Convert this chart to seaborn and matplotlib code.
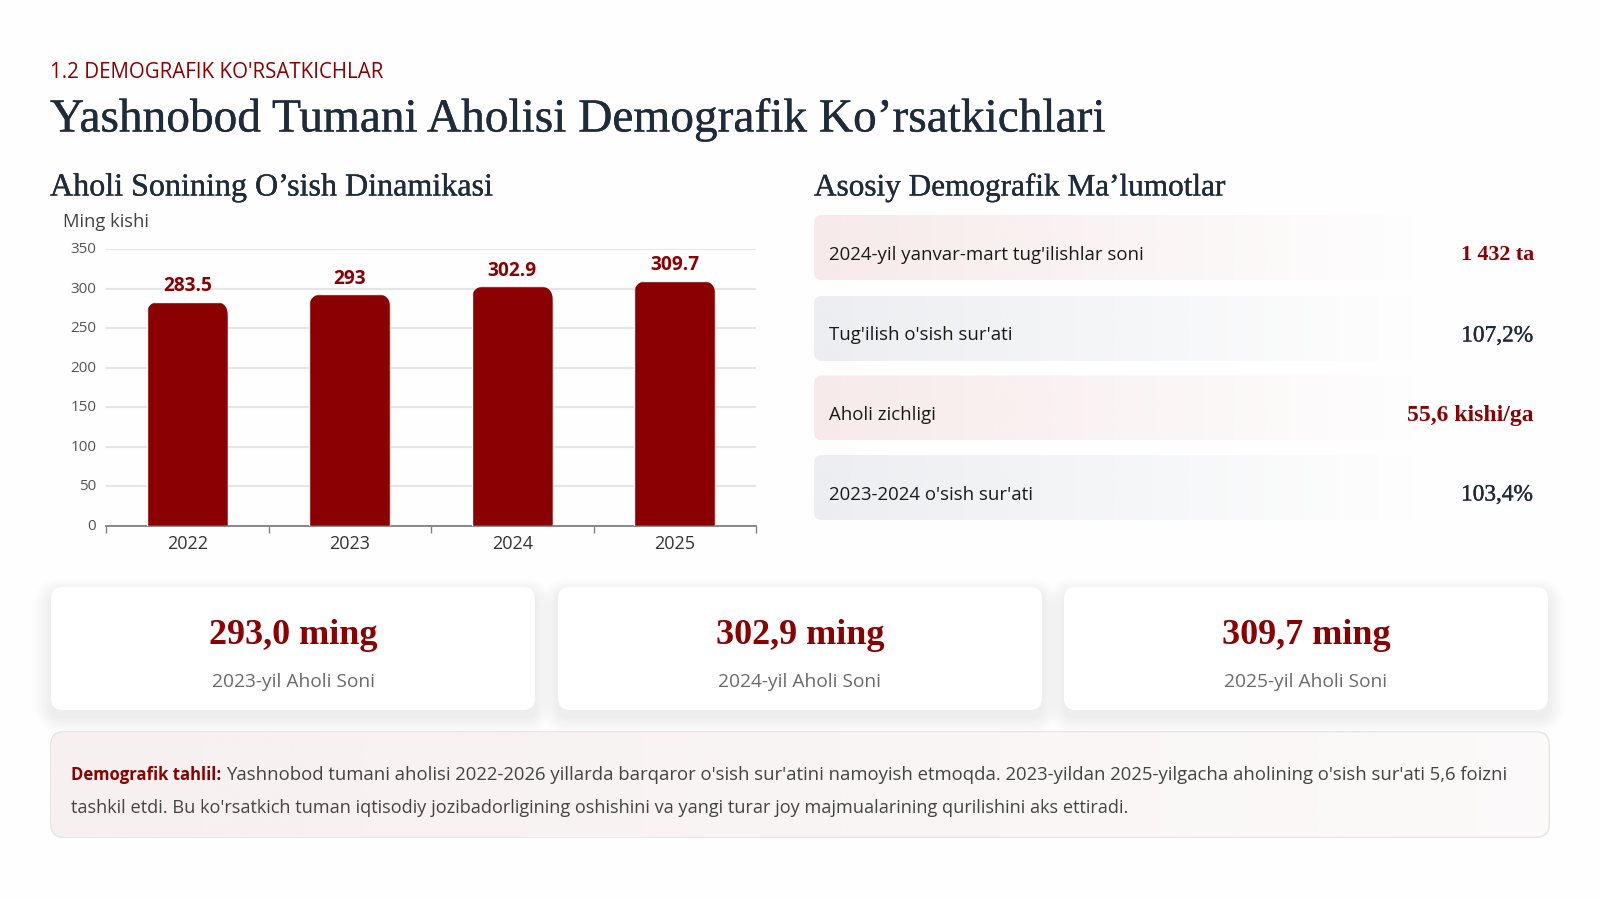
import numpy as np
import pandas as pd
import matplotlib
matplotlib.use("Agg")
import matplotlib.pyplot as plt
import matplotlib.patheffects as pe
from matplotlib.colors import to_rgb
from matplotlib.patches import FancyBboxPatch
from matplotlib.transforms import IdentityTransform, ScaledTranslation
import seaborn as sns

# дані графіка
years = ["2022", "2023", "2024", "2025"]
population = [283.5, 293, 302.9, 309.7]
y_ticks = [0, 50, 100, 150, 200, 250, 300, 350]

row_labels = ["2024-yil yanvar-mart tug'ilishlar soni", "Tug'ilish o'sish sur'ati",
              "Aholi zichligi", "2023-2024 o'sish sur'ati"]
row_values = ["1 432 ta", "107,2%", "55,6 kishi/ga", "103,4%"]

card_values = ["293,0 ming", "302,9 ming", "309,7 ming"]
card_labels = ["2023-yil Aholi Soni", "2024-yil Aholi Soni", "2025-yil Aholi Soni"]

RED = "#8b0000"
DARK = "#1f2a3a"
SERIF = "Liberation Serif"
SANS = "Open Sans"

sns.set_theme(style="white")
plt.rcParams["font.family"] = [SANS, "DejaVu Sans"]

fig = plt.figure(figsize=(16, 8.99), dpi=100, facecolor="#fefefe")

# фон у пікселях
bg = fig.add_axes([0, 0, 1, 1], zorder=0)
bg.axis("off")

# трохи жирніший серіф
thick = [pe.withStroke(linewidth=0.25, foreground=DARK)]


def rounded(x0, y0, x1, y1, r, **kw):
    p = FancyBboxPatch((x0 + r, y0 + r), x1 - x0 - 2 * r, y1 - y0 - 2 * r,
                       boxstyle=f"round,pad={r},rounding_size={r}", **kw)
    bg.add_patch(p)
    return p


def gradient(x0, y0, x1, y1, r, color, fade=0.82):
    # заливка зліва направо, зникає в білий
    rgb = to_rgb(color)
    img = np.ones((2, 256, 4))
    img[..., :3] = rgb
    img[..., 3] = np.clip(1 - np.linspace(0, 1, 256) / fade, 0, 1)
    im = bg.imshow(img, extent=(x0, x1, y1, y0), aspect="auto", zorder=1, interpolation="bilinear")
    clip = rounded(x0, y0, x1, y1, r, fc="none", ec="none")
    im.set_clip_path(clip)


def shadow(x0, y0, x1, y1, r):
    for spread in range(16, 0, -2):
        rounded(x0 - spread, y0 - spread + 7, x1 + spread, y1 + spread + 7, r + spread,
                fc="#20304a", ec="none", alpha=0.006, zorder=1)


# заголовки
bg.text(50, 72, "1.2 DEMOGRAFIK KO'RSATKICHLAR", color=RED, fontsize=14.8, va="center")
bg.text(50, 120, "Yashnobod Tumani Aholisi Demografik Ko’rsatkichlari", color=DARK,
        family=SERIF, fontsize=34.1, va="center", path_effects=thick)
bg.text(50, 188, "Aholi Sonining O’sish Dinamikasi", color=DARK, family=SERIF, fontsize=23.1,
        va="center", path_effects=thick)
bg.text(814, 188, "Asosiy Demografik Ma’lumotlar", color=DARK, family=SERIF, fontsize=22.5,
        va="center", path_effects=thick)
bg.text(63, 222, "Ming kishi", color="#444444", fontsize=13.2, va="center")

# рядки справа
row_tops = [215, 296, 375.5, 455]
row_fills = ["#f7eaea", "#eceef1", "#f7eaea", "#eceef1"]
for top, fill, label, value in zip(row_tops, row_fills, row_labels, row_values):
    gradient(814, top, 1549, top + 65, 8, fill)
    bg.text(829, top + 39.5, label, color="#1a1a1a", fontsize=13.4, va="center")
    if "ta" in value or "kishi" in value:
        bg.text(1534, top + 40, value, color=RED, family=SERIF,
                fontsize=15.8 if "ta" in value else 17, fontweight="bold", ha="right", va="center")
    else:
        bg.text(1533, top + 40, value, color=DARK, family=SERIF, fontsize=16.8, ha="right",
                va="center", path_effects=thick)

# картки
card_lefts = [51, 558, 1064]
for left, value, label in zip(card_lefts, card_values, card_labels):
    shadow(left, 587, left + 484, 710, 12)
    rounded(left, 587, left + 484, 710, 12, fc="white", ec="none", zorder=2)
    cx = left + 242
    bg.text(cx, 635, value, color=RED, family=SERIF, fontsize=26, fontweight="bold",
            ha="center", va="center", zorder=3)
    bg.text(cx, 682, label, color="#6b6b6b", fontsize=13.8, ha="center", va="center", zorder=3)

# блок аналізу
rounded(50, 731, 1550, 838, 14, fc="#e9e5e5", ec="none", zorder=1)
rounded(51.5, 732.5, 1548.5, 836.5, 13, fc="white", ec="none", zorder=1)
gradient(51.5, 732.5, 1548.5, 836.5, 13, "#f7f0f0", fade=1.6)

bg.set_xlim(0, 1600)
bg.set_ylim(899, 0)

head = bg.text(71, 775, "Demografik tahlil:", color=RED, fontsize=12, fontweight="bold",
               va="center", zorder=3)
fig.canvas.draw()
head_end = head.get_window_extent().x1
bg.text(head_end + 5, 775,
        "Yashnobod tumani aholisi 2022-2026 yillarda barqaror o'sish sur'atini namoyish etmoqda. "
        "2023-yildan 2025-yilgacha aholining o'sish sur'ati 5,6 foizni",
        color="#444444", fontsize=13.3, va="center", zorder=3)
bg.text(71, 808,
        "tashkil etdi. Bu ko'rsatkich tuman iqtisodiy jozibadorligining oshishini va yangi turar joy "
        "majmualarining qurilishini aks ettiradi.",
        color="#444444", fontsize=13.08, va="center", zorder=3)

# стовпчики
ax = fig.add_axes([106 / 1600, 1 - 526 / 899, 650 / 1600, 277 / 899], zorder=2)
ax.patch.set_alpha(0)
df = pd.DataFrame({"year": years, "population": population})
sns.barplot(data=df, x="year", y="population", color=RED, saturation=1, width=0.5, ax=ax, zorder=3)
ax.set_xlim(-0.5, 3.5)
ax.set_ylim(0, 350)
ax.set_yticks(y_ticks)
ax.set_xlabel("")
ax.set_ylabel("")
ax.grid(axis="y", color="#e4e5e7", lw=1.5, zorder=0)
ax.grid(axis="x", visible=False)
sns.despine(ax=ax, left=True)
ax.spines["bottom"].set_color("#808080")
ax.spines["bottom"].set_linewidth(1.3)
ax.set_xticks(np.arange(-0.5, 4, 1), minor=True)
ax.tick_params(axis="x", which="minor", length=5, width=1, color="#808080", bottom=True)
ax.tick_params(axis="x", which="major", length=0, labelsize=13, labelcolor="#333333", pad=6.5)
ax.tick_params(axis="y", length=0, labelsize=11, labelcolor="#555555", pad=7, left=False)

# підписи осі Y трохи вище лінії
shift = ScaledTranslation(0, 1.5 / 100, fig.dpi_scale_trans)
for lab in ax.get_yticklabels():
    lab.set_transform(lab.get_transform() + shift)

for i, v in enumerate(population):
    ax.annotate(str(v), (i, v), xytext=(0, 4), textcoords="offset points", ha="center", va="bottom",
                color=RED, fontsize=13.8, fontweight="bold")

# заокруглений верх стовпчиків
fig.canvas.draw()
for bar in ax.patches:
    ext = bar.get_window_extent()
    clip = FancyBboxPatch((ext.x0 + 14, ext.y0 - 28), ext.width - 28, ext.height + 14,
                          boxstyle="round,pad=14,rounding_size=14", transform=IdentityTransform())
    bar.set_clip_path(clip)

plt.savefig("out.png", dpi=100, facecolor=fig.get_facecolor())
plt.close()
